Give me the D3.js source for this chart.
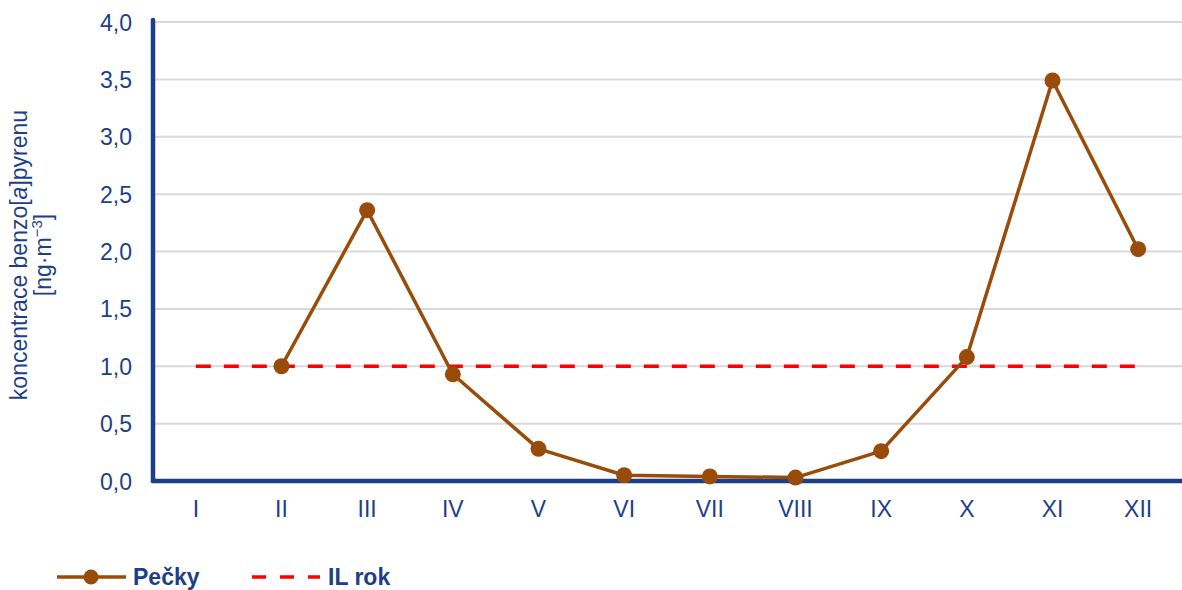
<!DOCTYPE html>
<html><head><meta charset="utf-8">
<script src="https://cdn.jsdelivr.net/npm/d3@7"></script>
<style>body{margin:0;background:#fff}svg{display:block;font-family:"Liberation Sans",Arial,sans-serif}</style>
</head><body><svg id="c" width="1182" height="590"></svg>
<script>
const months = ["I","II","III","IV","V","VI","VII","VIII","IX","X","XI","XII"];
const pecky = [null,1.00,2.36,0.93,0.28,0.05,0.04,0.03,0.26,1.08,3.49,2.02];
const ilRok = [1,1,1,1,1,1,1,1,1,1,1,1];
const yTicks = [0,0.5,1,1.5,2,2.5,3,3.5,4];
const seriesNames = ["Pečky","IL rok"];

const blue = "#1d3f87", brown = "#994c0a", red = "#ff0000";
const FS = "23px";
const svg = d3.select("#c");
const x = d3.scaleBand().domain(months).range([153, 1181]);
const y = d3.scaleLinear().domain([0,4]).range([481, 22]);
const cx = d => x(d) + x.bandwidth()/2;

// grid
svg.append("g").selectAll("line").data(yTicks.slice(1)).join("line")
  .attr("x1",153).attr("x2",1182).attr("y1",d=>y(d)).attr("y2",d=>y(d))
  .attr("stroke","#d9d9d9").attr("stroke-width",2);

// y axis
const ya = svg.append("g").attr("transform","translate(132,0)")
  .call(d3.axisLeft(y).tickValues(yTicks).tickSize(0).tickFormat(d=>d3.format(".1f")(d).replace(".",",")));
ya.select(".domain").remove();
ya.selectAll("text").attr("fill",blue).style("font-size",FS).attr("dy","0.35em").attr("x",0);

// x axis
const xa = svg.append("g").attr("transform","translate(0,517)")
  .call(d3.axisBottom(x).tickSize(0));
xa.select(".domain").remove();
xa.selectAll("text").attr("fill",blue).style("font-size",FS).attr("dy","0").attr("y",0);

// axis lines
svg.append("line").attr("x1",153).attr("x2",153).attr("y1",20).attr("y2",481)
  .attr("stroke",blue).attr("stroke-width",4.5).attr("stroke-linecap","round");
svg.append("line").attr("x1",153).attr("x2",1190).attr("y1",481).attr("y2",481)
  .attr("stroke",blue).attr("stroke-width",4.5).attr("stroke-linecap","round");

// IL line
svg.append("path").datum(months.map((m,i)=>[cx(m),y(ilRok[i])]))
  .attr("d",d3.line()).attr("fill","none").attr("stroke",red).attr("stroke-width",3.5)
  .attr("stroke-dasharray","15,13");

// Pečky
const pts = months.map((m,i)=>({m,v:pecky[i]})).filter(d=>d.v!=null);
svg.append("path").datum(pts).attr("d",d3.line().x(d=>cx(d.m)).y(d=>y(d.v)))
  .attr("fill","none").attr("stroke",brown).attr("stroke-width",3.5).attr("stroke-linejoin","round");
svg.append("g").selectAll("circle").data(pts).join("circle")
  .attr("cx",d=>cx(d.m)).attr("cy",d=>y(d.v)).attr("r",8).attr("fill",brown);

// y title
const t = svg.append("text").attr("transform","translate(0,255) rotate(-90)")
  .attr("text-anchor","middle").attr("fill",blue).style("font-size",FS);
const t1 = t.append("tspan").attr("x",0).attr("y",27);
t1.append("tspan").text("koncentrace benzo[");
t1.append("tspan").style("font-style","italic").text("a");
t1.append("tspan").text("]pyrenu");
const t2 = t.append("tspan").attr("x",0).attr("y",51);
t2.append("tspan").text("[ng·m");
t2.append("tspan").attr("dy",-9).style("font-size","15px").text("−3");
t2.append("tspan").attr("dy",9).text("]");

// legend
const lg = svg.append("g");
lg.append("line").attr("x1",57).attr("x2",126).attr("y1",577).attr("y2",577).attr("stroke",brown).attr("stroke-width",3.5);
lg.append("circle").attr("cx",91).attr("cy",577).attr("r",7.5).attr("fill",brown);
lg.append("text").attr("x",133).attr("y",585).attr("fill",blue).style("font-size",FS).style("font-weight","bold").text(seriesNames[0]);
lg.append("line").attr("x1",252).attr("x2",320).attr("y1",577).attr("y2",577).attr("stroke",red).attr("stroke-width",3.5).attr("stroke-dasharray","14,14");
lg.append("text").attr("x",328).attr("y",585).attr("fill",blue).style("font-size",FS).style("font-weight","bold").text(seriesNames[1]);
</script></body></html>
